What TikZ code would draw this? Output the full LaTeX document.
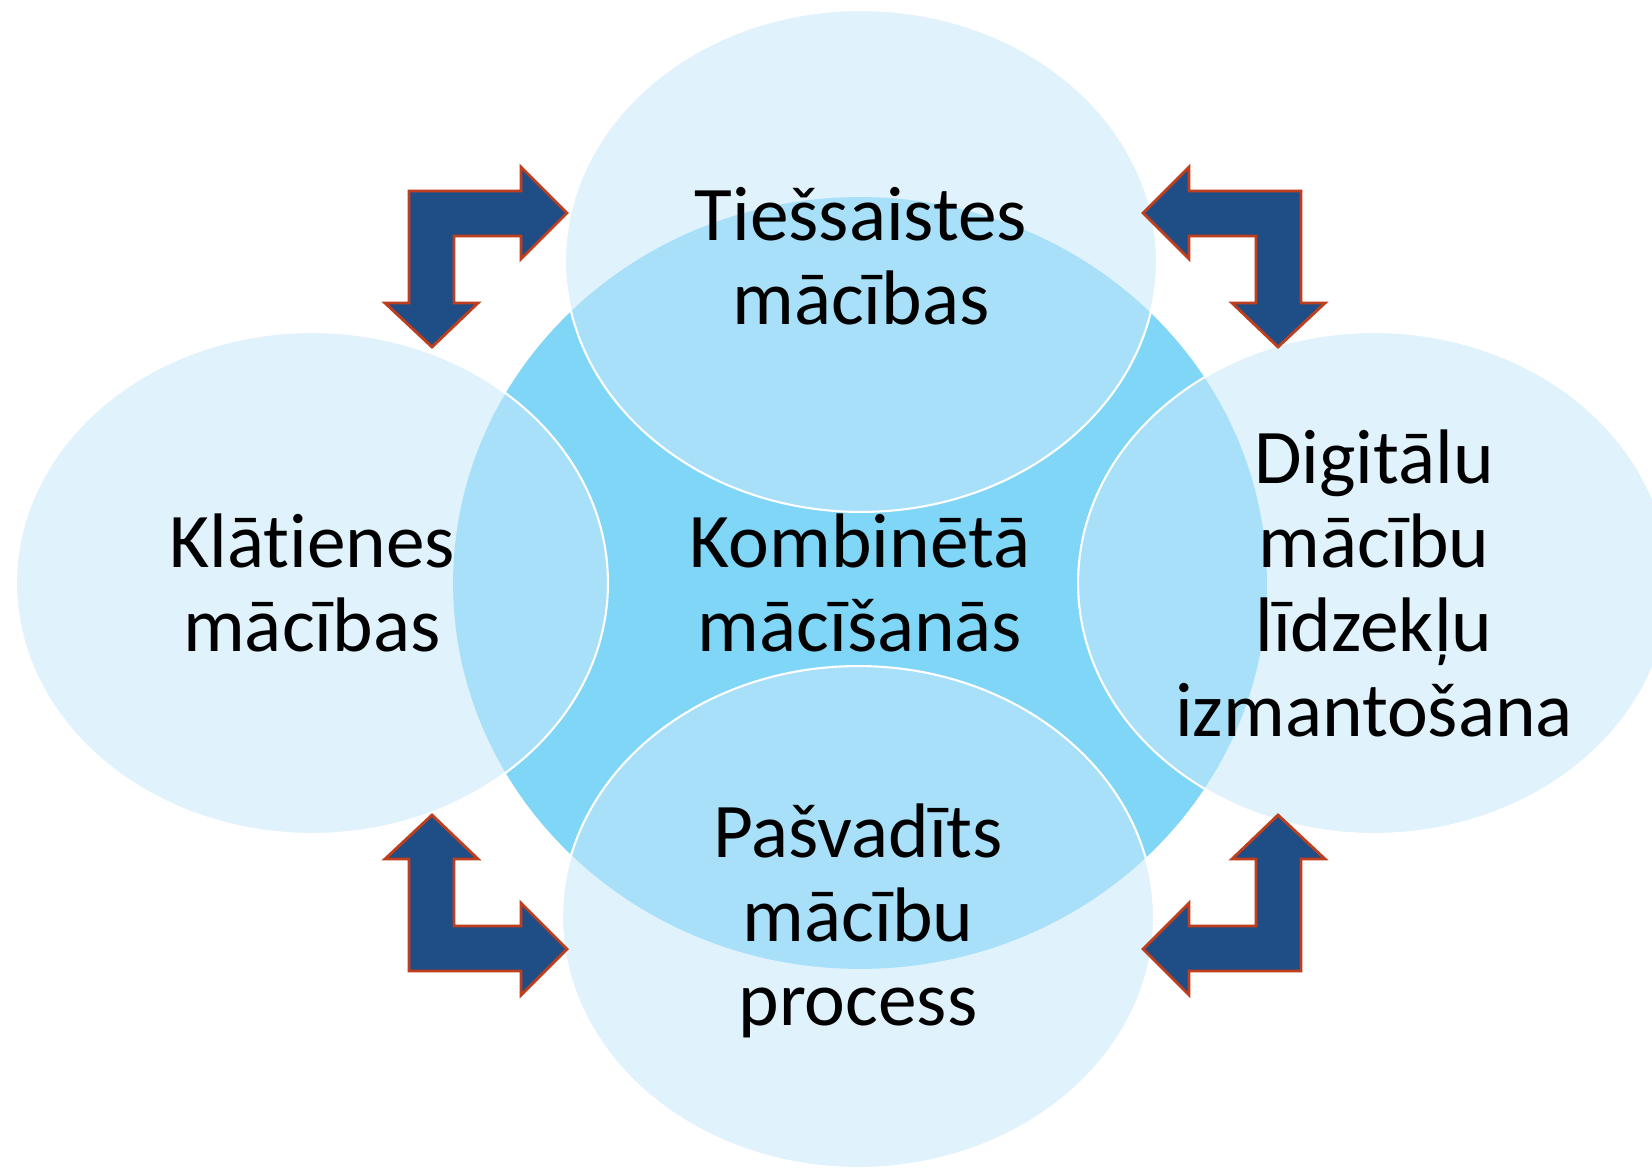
\documentclass[tikz,border=0pt]{standalone}
\usepackage{fontspec}
\setmainfont{Carlito}[Ligatures=NoCommon]
\usetikzlibrary{shapes.geometric}

\definecolor{corefill}{RGB}{127,214,247}
\definecolor{bubblefill}{RGB}{201,233,251}
\definecolor{arrowfill}{RGB}{31,78,134}
\definecolor{arrowedge}{RGB}{190,62,30}

\tikzset{
    core/.style={ellipse, fill=corefill, inner sep=0pt, outer sep=0pt,
        minimum width=16.28cm, minimum height=15.44cm},
    bubble/.style={ellipse, fill=bubblefill, fill opacity=0.555, draw=white, line width=1.2pt,
        inner sep=0pt, outer sep=0pt, minimum width=11.84cm, minimum height=10.04cm},
    caption/.style={align=center, font=\fontsize{44}{48}\selectfont, text=black},
    bentarrow/.pic={
        \draw[fill=arrowfill, draw=arrowedge, line width=1.6pt, line join=miter]
            (0,0) -- (112,0) -- (112,-24) -- (158,22) -- (112,68) -- (112,45)
            -- (45,45) -- (45,112) -- (69,112) -- (23,156) -- (-24,112) -- (0,112) -- cycle;
    }
}

\begin{document}
\begin{tikzpicture}[x=0.02cm, y=-0.02cm]
    \clip (0,0) rectangle (1652,1169);
    \fill[white] (0,0) rectangle (1652,1169);

    \node[core] at (860, 583) (kombi) {};
    \node[bubble] at (861, 261) (tiess) {};
    \node[bubble] at (312, 583) (klat) {};
    \node[bubble] at (1374, 583) (digit) {};
    \node[bubble] at (858, 917) (pasv) {};

    \node[caption] at (kombi.center) (kombitxt) {Kombinētā\\mācīšanās};
    \node[caption, yshift=0.1cm] at (tiess.center) (tiesstxt) {Tiešsaistes\\mācības};
    \node[caption] at (klat.center) (klattxt) {Klātienes\\mācības};
    \node[caption] at (digit.center) (digittxt) {Digitālu\\mācību\\līdzekļu\\izmantošana};
    \node[caption, yshift=-0.08cm] at (pasv.center) (pasvtxt) {Pašvadīts\\mācību\\process};

    \pic at (409, 191) {bentarrow};
    \pic[xscale=-1] at (1301, 191) {bentarrow};
    \pic[yscale=-1] at (409, 971) {bentarrow};
    \pic[xscale=-1, yscale=-1] at (1301, 971) {bentarrow};
\end{tikzpicture}
\end{document}
